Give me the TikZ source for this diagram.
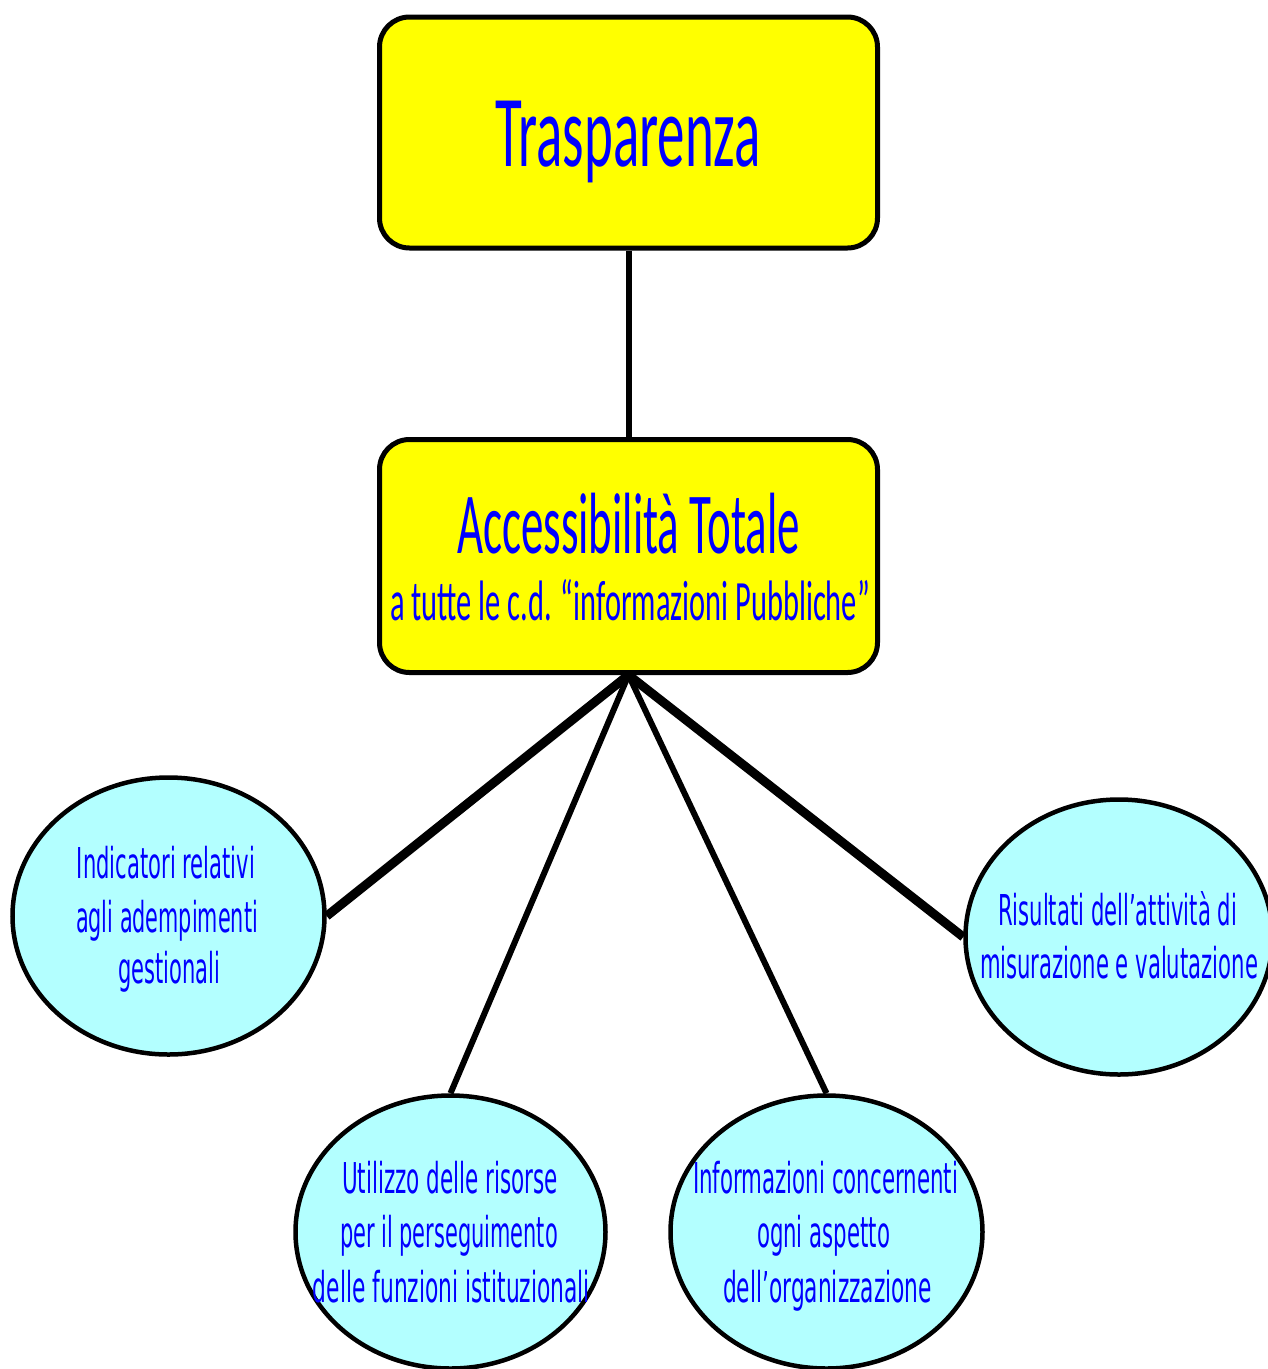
\documentclass[tikz,border=0pt]{standalone}
\usepackage{fontspec}
\usepackage{graphicx}
\usetikzlibrary{shapes.geometric,backgrounds}
\newfontfamily\boxfont{Carlito}
\newfontfamily\ellfont{DejaVu Sans}
\definecolor{boxyellow}{HTML}{FFFF00}
\definecolor{ellcyan}{HTML}{B3FFFF}
\definecolor{txtblue}{HTML}{0000FF}
\newsavebox\fitbox
\newcommand\fitw[2]{\sbox\fitbox{#2}\resizebox{#1pt}{\ht\fitbox}{\usebox\fitbox}}
\begin{document}
\begin{tikzpicture}[x=1pt,y=1pt,
  yellowbox/.style={draw=black, line width=5pt, fill=boxyellow, rounded corners=30pt,
    minimum width=498pt, minimum height=231pt, inner sep=0pt},
  bubble/.style={ellipse, draw=black, line width=4.5pt, fill=ellcyan, inner sep=0pt},
  boxtxt/.style={text=txtblue, inner sep=0pt, anchor=base},
  elltxt/.style={text=txtblue, inner sep=0pt, anchor=base, font=\ellfont\fontsize{42.5}{50}\selectfont},
  conn/.style={draw=black, line width=6pt},
  thickconn/.style={draw=black, line width=9pt}]
\useasboundingbox (0,0) rectangle (1268,-1369);

% boxes
\node[yellowbox] (trasp) at (628.5,-132.5) {};
\node[yellowbox, minimum height=233pt] (acc) at (628.5,-556) {};

% ellipses
\node[bubble, minimum width=312pt, minimum height=277pt] (ind) at (168.5,-916) {};
\node[bubble, minimum width=307pt, minimum height=275pt] (ris) at (1119,-937) {};
\node[bubble, minimum width=310pt, minimum height=273pt] (uti) at (450.5,-1232) {};
\node[bubble, minimum width=312pt, minimum height=273pt] (inf) at (826.5,-1232) {};

% connectors
\begin{scope}[on background layer]
\fill[white] (0,0) rectangle (1268,-1369);
\draw[conn] (trasp.south) -- (acc.north);
\draw[thickconn] (acc.south) -- (ind.east);
\draw[conn] (acc.south) -- (uti.north);
\draw[conn] (acc.south) -- (inf.north);
\draw[thickconn] (acc.south) -- (ris.west);
\end{scope}

% box texts
\node[boxtxt, font=\boxfont\fontsize{102}{110}\selectfont] (t0) at (628,-166) {\fitw{266}{Trasparenza}};
\node[boxtxt, font=\boxfont\fontsize{87}{95}\selectfont] (t1) at (628.5,-553) {\fitw{343}{Accessibilità Totale}};
\node[boxtxt, font=\boxfont\fontsize{57}{62}\selectfont] (t2) at (630,-620) {\fitw{480}{a tutte le c.d. “informazioni Pubbliche”}};

% ellipse texts
\node[elltxt] (ia) at (166,-878) {\fitw{178}{Indicatori relativi}};
\node[elltxt] (ib) at (167,-932) {\fitw{182}{agli adempimenti}};
\node[elltxt] (ic) at (169,-983) {\fitw{102}{gestionali}};

\node[elltxt] (ra) at (1117.5,-925) {\fitw{239}{Risultati dell’attività di}};
\node[elltxt] (rb) at (1119,-978) {\fitw{278}{misurazione e valutazione}};

\node[elltxt] (ua) at (450,-1193) {\fitw{216}{Utilizzo delle risorse}};
\node[elltxt] (ub) at (449,-1247) {\fitw{218}{per il perseguimento}};
\node[elltxt] (uc) at (451.5,-1302) {\fitw{277}{delle funzioni istituzionali}};

\node[elltxt] (fa) at (825.5,-1193) {\fitw{265}{Informazioni concernenti}};
\node[elltxt] (fb) at (823.5,-1247) {\fitw{133}{ogni aspetto}};
\node[elltxt] (fc) at (827.5,-1302) {\fitw{209}{dell’organizzazione}};
\end{tikzpicture}
\end{document}
